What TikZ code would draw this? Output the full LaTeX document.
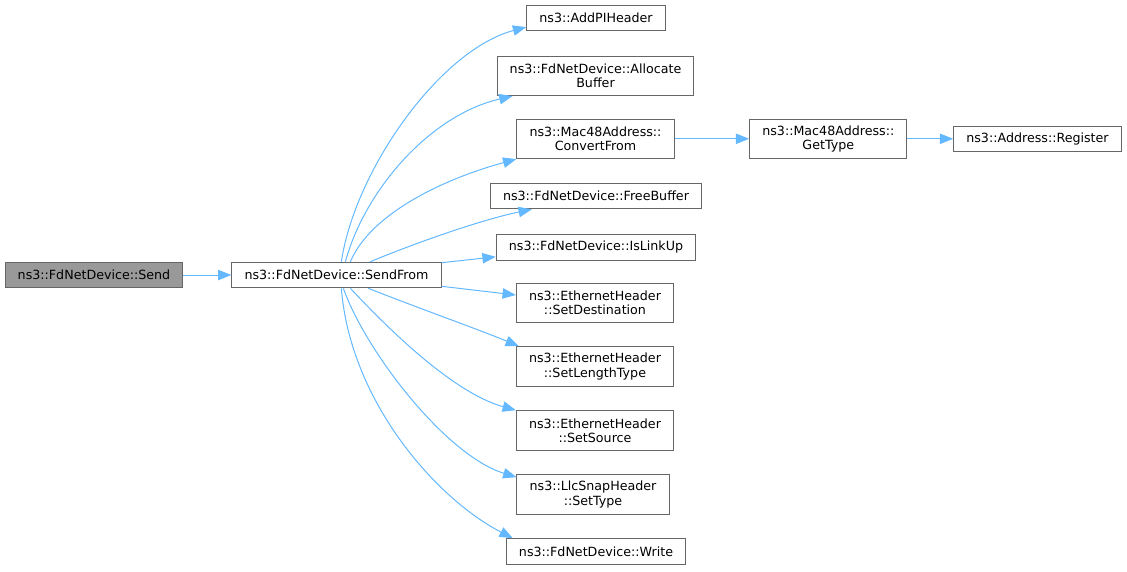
\documentclass[tikz,border=0pt]{standalone}
\usepackage{fontspec}
\setmainfont{DejaVu Sans}
\usepackage{tikz}
\usetikzlibrary{arrows.meta,calc}
\definecolor{edgeblue}{HTML}{63B8FF}
\definecolor{boxline}{HTML}{666666}
\definecolor{rootfill}{HTML}{999999}

\begin{document}
\begin{tikzpicture}[
        x=0.75pt, y=-0.75pt,
        fn/.style={draw=boxline, line width=0.75pt, align=center,
            font=\fontsize{9.5}{10.7}\selectfont, inner xsep=9.5pt,
            inner ysep=0pt, minimum height=19.2pt},
        fn two/.style={fn, minimum height=29.7pt},
        root/.style={fn, fill=rootfill},
        call/.style={edgeblue, line width=0.75pt,
            -{Triangle[length=10pt,width=7.8pt]}},
    ]
    \useasboundingbox (0,0) rectangle (1127,571);

    % caller
    \node[root] (send) at (94,275) {ns3::FdNetDevice::Send};
    \node[fn] (sendfrom) at (336.5,275) {ns3::FdNetDevice::SendFrom};

    % callees
    \node[fn] (addpi) at (596,17.8) {ns3::AddPIHeader};
    \node[fn two] (alloc) at (595.5,75.8) {ns3::FdNetDevice::Allocate\\Buffer};
    \node[fn two] (conv) at (595.5,138.8) {ns3::Mac48Address::\\ConvertFrom};
    \node[fn] (freebuf) at (596,196) {ns3::FdNetDevice::FreeBuffer};
    \node[fn] (linkup) at (596,247.5) {ns3::FdNetDevice::IsLinkUp};
    \node[fn two] (setdst) at (595,303) {ns3::EthernetHeader\\::SetDestination};
    \node[fn two] (setlen) at (595,366.5) {ns3::EthernetHeader\\::SetLengthType};
    \node[fn two] (setsrc) at (595,430.5) {ns3::EthernetHeader\\::SetSource};
    \node[fn two] (settype) at (593,494.5) {ns3::LlcSnapHeader\\::SetType};
    \node[fn] (write) at (596,551.5) {ns3::FdNetDevice::Write};
    \node[fn two] (gettype) at (828.3,138.8) {ns3::Mac48Address::\\GetType};
    \node[fn] (reg) at (1037.5,138.8) {ns3::Address::Register};

    % straight calls
    \draw[call] (send) -- (sendfrom);
    \draw[call] (conv) -- (gettype);
    \draw[call] (gettype) -- (reg);

    % upper fan
    \draw[call] ($(sendfrom.north west)+(110,0)$) .. controls (355,170) and (440,50)
                .. ($(addpi.south west)+(0,-4)$);
    \draw[call] ($(sendfrom.north west)+(114,0)$) .. controls (365,190) and (430,115)
                .. ($(alloc.south west)+(16,0)$);
    \draw[call] ($(sendfrom.north west)+(119,0)$) .. controls (370,215) and (440,180)
                .. (conv.south west);
    \draw[call] ($(sendfrom.north west)+(139,0)$) .. controls (410,245) and (480,220)
                .. ($(freebuf.south west)+(42,0)$);
    \draw[call] ($(sendfrom.north east)+(0,1)$) -- ($(linkup.south west)+(0,-4)$);

    % lower fan
    \draw[call] ($(sendfrom.south east)+(0,-2)$) -- ($(setdst.west)+(0,-8)$);
    \draw[call] ($(sendfrom.south west)+(137,0)$) .. controls (410,305) and (480,330)
                .. ($(setlen.north west)+(3,0)$);
    \draw[call] ($(sendfrom.south west)+(119,0)$) .. controls (380,320) and (450,392)
                .. (setsrc.north west);
    \draw[call] ($(sendfrom.south west)+(112,0)$) .. controls (365,350) and (445,455)
                .. ($(settype.north west)+(0,3)$);
    \draw[call] ($(sendfrom.south west)+(110,0)$) .. controls (350,400) and (435,498)
                .. ($(write.north west)+(7,0)$);
\end{tikzpicture}
\end{document}
